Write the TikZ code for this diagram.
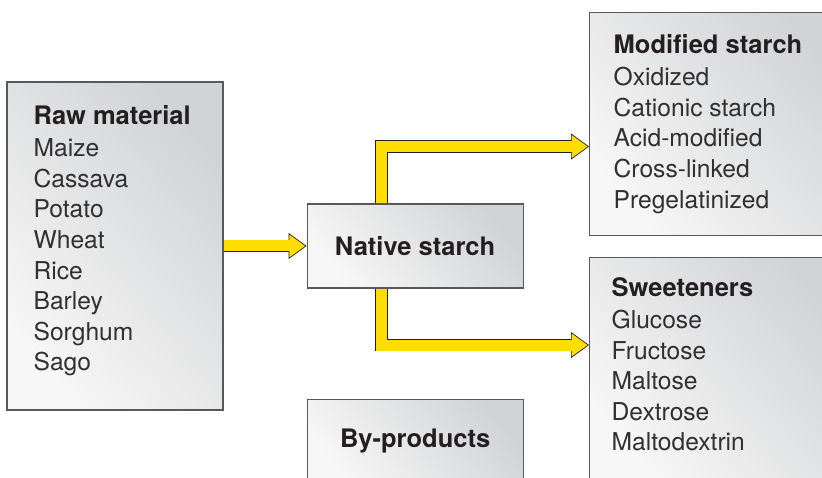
\documentclass[tikz,border=0pt]{standalone}
\usepackage{fontspec}
\setmainfont{TeX Gyre Heros}
\usepackage{tikz}
\usetikzlibrary{arrows.meta}
\usetikzlibrary{positioning}
\definecolor{flowyellow}{HTML}{FFDD00}
\definecolor{inkdark}{HTML}{231F20}
\definecolor{inklist}{HTML}{303030}
\definecolor{boxline}{HTML}{58595B}
\definecolor{boxgrey}{HTML}{D2D3D5}
\definecolor{boxpale}{HTML}{F7F7F7}
\tikzstyle{stage}=[draw=boxline,line width=1.1pt,rectangle,inner sep=0pt,top color=boxgrey,bottom color=boxpale,shading angle=-50]
\tikzstyle{stagetitle}=[font=\fontsize{25.5}{30.6}\selectfont\bfseries,text=inkdark]
\tikzstyle{stagelist}=[anchor=north west,inner sep=0pt,align=left,text=inklist,font=\fontsize{24.6}{30.6}\selectfont]
\tikzstyle{flow}=[draw=inkdark,line width=0.7pt,line join=miter,-{Triangle[length=18pt,width=26pt,fill=flowyellow]},
  preaction={draw=inkdark,line width=12.6pt,arrows=-,shorten >=17.5pt},
  postaction={draw=flowyellow,line width=11pt,arrows=-,shorten >=16.5pt}]
\newcommand{\stagehead}[1]{{\fontsize{25.5}{30.6}\selectfont\bfseries\color{inkdark}#1}}

\begin{document}
\begin{tikzpicture}[x=1pt,y=-1pt]
\useasboundingbox (0,0) rectangle (822,478);
\clip (0,0) rectangle (822,478);
    \node [stage,minimum width=216pt,minimum height=328pt] (raw) at (115,246) {};
    \node [stage,stagetitle,minimum width=216pt,minimum height=84pt,right=83pt of raw] (native) {Native starch};
    \node [stage,stagetitle,minimum width=216pt,minimum height=84pt,below=110pt of native] (byprod) {By-products};
    \node [stage,minimum width=260pt,minimum height=223pt,anchor=north west] (modified) at (589,12) {};
    \node [stage,minimum width=260pt,minimum height=223pt,anchor=north west] (sweet) at (589,257) {};

    \node [stagelist] (rawlist) at ([xshift=27pt,yshift=-24pt]raw.north west)
      {\stagehead{Raw material}\\[1.4pt] Maize\\ Cassava\\ Potato\\ Wheat\\ Rice\\ Barley\\ Sorghum\\ Sago};
    \node [stagelist] (modlist) at ([xshift=24.5pt,yshift=-22.5pt]modified.north west)
      {\stagehead{Modified starch}\\[1.4pt] Oxidized\\ Cationic starch\\ Acid-modified\\ Cross-linked\\ Pregelatinized};
    \node [stagelist] (sweetlist) at ([xshift=22.5pt,yshift=-20.5pt]sweet.north west)
      {\stagehead{Sweeteners}\\[1.4pt] Glucose\\ Fructose\\ Maltose\\ Dextrose\\ Maltodextrin};

%arrows out of native starch
\draw[flow] (raw) -- (native);
\draw[flow] ([xshift=-33.5pt]native.north) |- ([yshift=-22.5pt]modified.west);
\draw[flow] ([xshift=-33.5pt]native.south) |- ([yshift=24pt]sweet.west);
\end{tikzpicture}
\end{document}
